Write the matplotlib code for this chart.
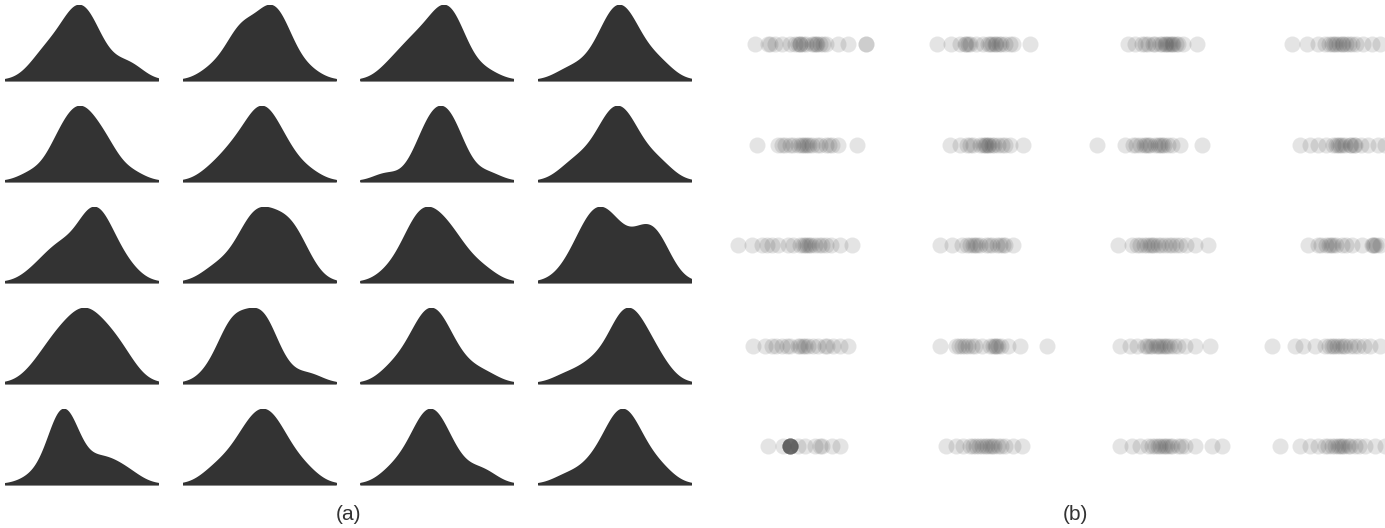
import numpy as np
import matplotlib
matplotlib.use("Agg")
import matplotlib.pyplot as plt

# ====================
# Data: one sample per cell (rows x columns), units of the strip scale
# ====================
row1 = [
    [3.8, 5.1, 5.3, 5.8, 6.5, 7.3, 7.8, 8.1, 8.3, 8.3, 8.6, 8.9, 9.5, 9.7, 9.9, 10.0,
     10.3, 10.6, 10.9, 12.1, 13.1, 14.9, 14.9],
    [4.2, 5.6, 6.5, 7.0, 7.1, 7.3, 7.5, 8.1, 8.8, 9.3, 9.5, 9.7, 10.0, 10.1, 10.4,
     10.6, 11.0, 11.5, 11.8, 13.5],
    [5.5, 6.2, 6.9, 7.2, 7.5, 8.0, 8.2, 8.7, 8.9, 9.2, 9.3, 9.5, 9.7, 9.9, 10.0,
     10.3, 10.5, 11.0, 12.4],
    [4.1, 5.6, 6.7, 7.4, 7.8, 8.1, 8.3, 8.5, 8.8, 9.1, 9.2, 9.5, 9.8, 10.1, 10.5,
     11.2, 12.1, 12.9],
]
row2 = [
    [4.0, 6.1, 6.5, 6.8, 7.3, 7.6, 8.1, 8.4, 8.6, 8.8, 9.0, 9.2, 9.5, 10.0, 10.3,
     10.9, 11.2, 11.5, 12.1, 14.0],
    [5.5, 6.5, 7.2, 7.5, 7.8, 8.5, 8.8, 9.0, 9.1, 9.3, 9.4, 9.7, 9.9, 10.3, 10.7,
     11.0, 11.5, 12.8],
    [2.4, 5.2, 6.0, 6.3, 6.7, 7.1, 7.3, 7.5, 7.7, 8.2, 8.5, 8.7, 8.9, 9.1, 9.5,
     9.9, 10.7, 12.9],
    [4.9, 5.9, 6.7, 7.5, 8.2, 8.5, 8.7, 8.9, 9.1, 9.4, 9.9, 10.0, 10.3, 10.4, 11.0,
     11.7, 12.7, 13.4],
]
row3 = [
    [2.1, 3.5, 4.5, 5.0, 5.5, 6.1, 7.1, 7.6, 8.3, 8.6, 8.8, 9.0, 9.2, 9.4, 9.8,
     10.2, 10.5, 10.9, 11.4, 12.3, 13.5],
    [4.5, 5.7, 6.7, 7.2, 7.5, 7.8, 8.0, 8.2, 8.5, 9.1, 9.4, 9.7, 10.2, 10.5, 10.8,
     11.0, 11.8],
    [4.5, 5.9, 6.4, 6.7, 7.1, 7.4, 7.7, 7.9, 8.1, 8.5, 8.8, 9.2, 9.6, 9.9, 10.3,
     10.7, 11.3, 12.2, 13.5],
    [5.7, 6.7, 7.0, 7.5, 7.8, 8.0, 8.2, 8.5, 9.1, 9.5, 10.1, 11.1, 12.1, 12.2, 12.3,
     12.5, 12.9],
]
row4 = [
    [3.6, 4.8, 5.5, 5.9, 6.5, 7.0, 7.3, 8.1, 8.3, 8.6, 8.8, 9.1, 9.6, 10.1, 10.8,
     11.0, 11.6, 12.3, 13.1],
    [4.5, 6.1, 6.4, 6.7, 7.0, 7.3, 7.7, 8.0, 8.7, 9.5, 9.8, 10.0, 10.1, 10.3, 10.6,
     11.3, 12.5, 15.2],
    [4.7, 5.7, 6.4, 7.2, 7.4, 7.7, 7.9, 8.3, 8.5, 8.7, 9.0, 9.2, 9.4, 9.7, 10.1,
     10.5, 11.2, 12.2, 13.7],
    [2.1, 4.4, 5.2, 6.4, 7.4, 7.8, 8.1, 8.3, 8.6, 8.9, 9.2, 9.4, 9.9, 10.3, 10.7,
     11.3, 11.9, 12.9],
]
row5 = [
    [5.1, 6.6, 7.3, 7.3, 7.3, 7.3, 7.3, 7.3, 7.3, 7.3, 7.3, 8.1, 8.8, 9.8, 10.3,
     10.5, 11.5, 12.3],
    [5.1, 6.1, 6.8, 7.5, 7.8, 8.1, 8.4, 8.7, 9.0, 9.2, 9.5, 9.7, 9.9, 10.3, 10.6,
     11.0, 11.8, 12.7],
    [4.7, 5.9, 6.7, 7.5, 7.9, 8.2, 8.5, 8.7, 9.0, 9.2, 9.4, 9.7, 9.9, 10.5, 10.8,
     11.2, 12.2, 13.9, 14.9],
    [2.9, 4.9, 5.9, 6.7, 7.4, 7.7, 8.1, 8.4, 8.7, 8.9, 9.1, 9.3, 9.7, 9.9, 10.4,
     10.8, 11.4, 12.4, 13.4],
]
samples = [row1, row2, row3, row4, row5]
panel_labels = ["(a)", "(b)"]

FILL = "#333333"
W, H = 1385, 528


def kde_curve(vals):
    vals = np.asarray(vals, dtype=float)
    h = vals.std(ddof=1) * len(vals) ** (-1 / 5)
    grid = np.linspace(vals.min() - 2 * h, vals.max() + 2 * h, 400)
    dens = np.exp(-0.5 * ((grid[:, None] - vals[None, :]) / h) ** 2).sum(axis=1)
    return grid, dens


fig = plt.figure(figsize=(W / 100, H / 100), dpi=100)

for r, row in enumerate(samples):
    for c, vals in enumerate(row):
        # (a) filled density
        left = 5 + 177.7 * c
        base = 81 + 101 * r
        ax = fig.add_axes([left / W, 1 - base / H, 153 / W, 76 / H])
        x, d = kde_curve(vals)
        ax.fill_between(x, 0, d, color=FILL, lw=1.2, edgecolor=FILL)
        ax.set_xlim(x[0], x[-1])
        ax.set_ylim(-0.01 * d.max(), d.max())
        ax.axis("off")

        # (b) strip of translucent dots
        sx = 717 + 178 * c
        sy = 44 + 100.5 * r
        bx = fig.add_axes([sx / W, 1 - (sy + 20) / H, 178 / W, 40 / H])
        bx.scatter(vals, np.zeros(len(vals)), s=133, color=FILL, alpha=0.13,
                   linewidths=0)
        bx.set_xlim(0, 17.8)
        bx.set_ylim(-1, 1)
        bx.axis("off")

fig.text(349 / W, 1 - 514 / H, panel_labels[0], ha="center", va="center",
         fontsize=15, family="Liberation Sans", color="#333333")
fig.text(1075 / W, 1 - 514 / H, panel_labels[1], ha="center", va="center",
         fontsize=15, family="Liberation Sans", color="#333333")

fig.savefig("out.png", dpi=100)
